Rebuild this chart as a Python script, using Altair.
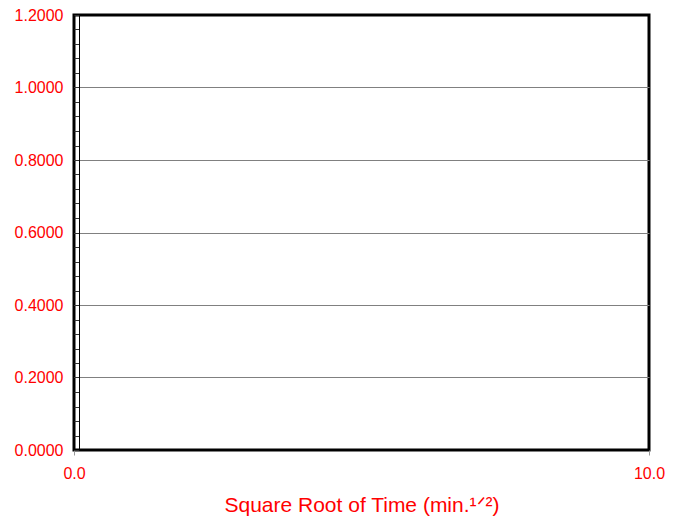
import altair as alt
import pandas as pd

# Axis tick values
x_ticks = [0.0, 10.0]
y_major = [0.0, 0.2, 0.4, 0.6, 0.8, 1.0, 1.2]
y_minor = [0.0, 0.04, 0.08, 0.12, 0.16, 0.2, 0.24, 0.28, 0.32, 0.36, 0.4,
           0.44, 0.48, 0.52, 0.56, 0.6, 0.64, 0.68, 0.72, 0.76, 0.8,
           0.84, 0.88, 0.92, 0.96, 1.0, 1.04, 1.08, 1.12, 1.16, 1.2]

# The reference plot contains no data points
series_x = []
series_y = []

x_domain = [0, 10]
y_domain = [0, 1.2]

df = pd.DataFrame({"x": pd.Series(series_x, dtype=float),
                   "y": pd.Series(series_y, dtype=float)})

FONT = "Liberation Sans"
RED = "#FF0000"

main = alt.Chart(df).mark_point().encode(
    x=alt.X("x:Q",
            scale=alt.Scale(domain=x_domain, nice=False, zero=False),
            axis=alt.Axis(values=x_ticks, format=".1f", grid=False,
                          domain=False, tickColor="#999999", tickSize=5,
                          tickWidth=1, labelColor=RED, labelFont=FONT,
                          labelFontSize=16, labelPadding=10, labelFlush=False,
                          labelOverlap=False,
                          title="Square Root of Time (min.¹ᐟ²)",
                          titleColor=RED, titleFont=FONT, titleFontSize=21,
                          titleFontWeight="normal", titlePadding=13)),
    y=alt.Y("y:Q",
            scale=alt.Scale(domain=y_domain, nice=False, zero=False),
            axis=alt.Axis(values=y_major, format=".4f", grid=True,
                          gridColor="#808080", gridWidth=1,
                          gridOpacity={"condition": {"test": "datum.value <= 0 || datum.value >= 1.2", "value": 0}, "value": 1},
                          domain=False, ticks=False, tickSize=0,
                          labelColor=RED, labelFont=FONT, labelFontSize=16,
                          labelPadding=11, labelFlush=False,
                          title=None, orient="left")),
)

minor = alt.Chart(df).mark_point().encode(
    y=alt.Y("y:Q",
            scale=alt.Scale(domain=y_domain, nice=False, zero=False),
            axis=alt.Axis(values=y_minor, labels=False, grid=False,
                          domain=True, domainColor="#000000", domainWidth=1,
                          ticks=True, tickColor="#333333", tickSize=5,
                          tickWidth=1, offset=-5, orient="left", title=None)),
)

chart = alt.layer(main, minor).resolve_scale(y="shared").resolve_axis(
    y="independent"
).properties(
    width=575,
    height=435,
    autosize=alt.AutoSizeParams(type="none"),
    padding={"left": 66, "top": 7, "right": 22, "bottom": 70},
    background="#FFFFFF",
).configure_view(
    stroke="#000000",
    strokeWidth=3,
)

chart.save("out.html", embed_options={"renderer": "svg", "actions": False})
